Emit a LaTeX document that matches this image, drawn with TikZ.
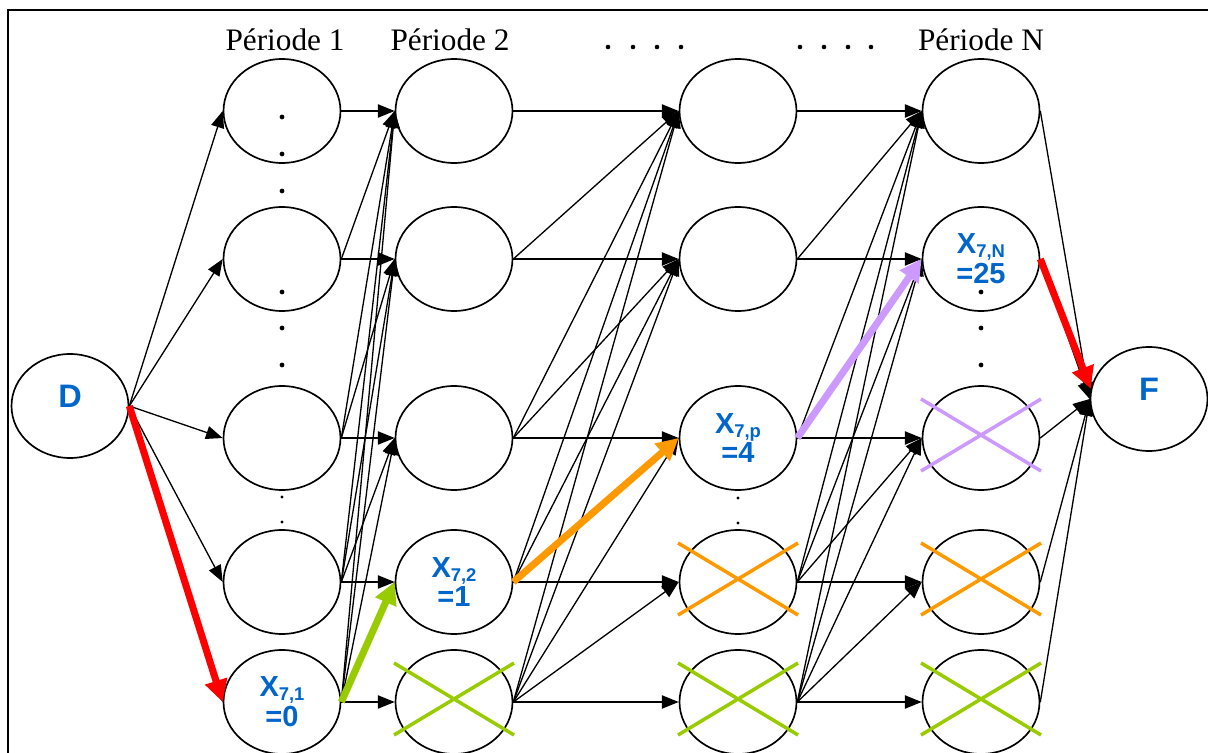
\documentclass[tikz,border=0pt]{standalone}
\usepackage{fontspec}
\setmainfont{Liberation Serif}
\newfontfamily\labelfont{Liberation Sans}
\usetikzlibrary{shapes.geometric,arrows.meta}
\definecolor{LabBlue}{RGB}{0,102,204}
\definecolor{PathRed}{RGB}{255,0,0}
\definecolor{PathGreen}{RGB}{153,204,0}
\definecolor{PathOrange}{RGB}{255,153,0}
\definecolor{PathViolet}{RGB}{204,153,255}
\newcommand{\xsub}[1]{\raisebox{-2.3pt}{\fontsize{10.5}{10}\selectfont #1}}
\tikzset{
	state/.style={ellipse,draw=black,fill=white,line width=0.95pt,minimum width=2.34cm,minimum height=2.08cm,
		inner sep=0pt,align=center,text=LabBlue,font=\labelfont\bfseries\fontsize{16.5}{17}\selectfont},
	ends/.style={state,text depth=11pt,font=\labelfont\bfseries\fontsize{18.5}{20}\selectfont},
	edge/.style={draw=black,line width=0.75pt,-{Triangle[length=9.5pt,width=7.5pt]}},
	best/.style={line width=4pt,-{Triangle[length=12.5pt,width=12.5pt]}},
	cross/.style={line width=2pt},
	period/.style={anchor=base,font=\fontsize{17.8}{20}\selectfont},
}

\begin{document}
\begin{tikzpicture}[x=0.02cm,y=-0.02cm]
	\useasboundingbox (0,0) rectangle (1208,753);
	\clip (0,0) rectangle (1208,753);
	\draw[line width=1.3pt] (8,800) -- (8,10) -- (1250,10);
	% periods
	\node[period] (h1) at (285,51) {Période 1};
	\node[period] (h2) at (450,51) {Période 2};
	\node[period] (hN) at (981,51) {Période N};
	\foreach \x in {608,633,657,681,800,824,848,871}
		\fill (\x,47) circle[radius=1.3pt];
	% states
	\node[ends] (D) at (70,406) {D};
	\node[state] (t1-1) at (282,111) {};
	\node[state] (t1-2) at (282,259) {};
	\node[state] (t1-3) at (282,438) {};
	\node[state] (t1-4) at (282,582) {};
	\node[state] (t1-5) at (282,702) {X\xsub{7,1}\\=0};
	\node[state] (t2-1) at (454,111) {};
	\node[state] (t2-2) at (454,259) {};
	\node[state] (t2-3) at (454,438) {};
	\node[state] (t2-4) at (454,582) {X\xsub{7,2}\\=1};
	\node[state] (t2-5) at (454,702) {};
	\node[state] (tp-1) at (738,111) {};
	\node[state] (tp-2) at (738,259) {};
	\node[state] (tp-3) at (738,438) {X\xsub{7,p}\\=4};
	\node[state] (tp-4) at (738,582) {};
	\node[state] (tp-5) at (738,702) {};
	\node[state] (tN-1) at (981,111) {};
	\node[state] (tN-2) at (981,259) {X\xsub{7,N}\\=25};
	\node[state] (tN-3) at (981,438) {};
	\node[state] (tN-4) at (981,582) {};
	\node[state] (tN-5) at (981,702) {};
	\node[ends] (F) at (1149,399) {F};
	% dots between states
	\foreach \x/\y in {282/117,282/154,282/191,282/292,282/328,282/365,981/292,981/328,981/365}
		\fill (\x,\y) circle[radius=1.35pt];
	\foreach \x/\y in {282/497,282/522,738/498,738/523}
		\fill (\x,\y) circle[radius=0.9pt];
	% transitions
	\foreach \i in {1,...,5}
		\draw[edge] (D.east) -- (t1-\i.west);
	\foreach \a/\b in {1/2,2/p,p/N}
		\foreach \i in {1,...,5}
			\foreach \j in {1,...,\i}
				\draw[edge] (t\a-\i.east) -- (t\b-\j.west);
	\foreach \i in {1,...,5}
		\draw[edge] (tN-\i.east) -- (F.west);
	% excluded states
	\foreach \n/\c in {t2-5/PathGreen,tp-5/PathGreen,tN-5/PathGreen,tp-4/PathOrange,tN-4/PathOrange,tN-3/PathViolet}{
		\draw[cross,\c] ([shift={(-60,-39)}]\n.center) -- ([shift={(60,33)}]\n.center);
		\draw[cross,\c] ([shift={(-60,33)}]\n.center) -- ([shift={(60,-39)}]\n.center);
	}
	% chosen path
	\draw[best,PathRed] (D.east) -- (t1-5.west);
	\draw[best,PathGreen] (t1-5.east) -- (t2-4.west);
	\draw[best,PathOrange] (t2-4.east) -- (tp-3.west);
	\draw[best,PathViolet] (tp-3.east) -- (tN-2.west);
	\draw[best,PathRed] (tN-2.east) -- (F.170);
\end{tikzpicture}
\end{document}
